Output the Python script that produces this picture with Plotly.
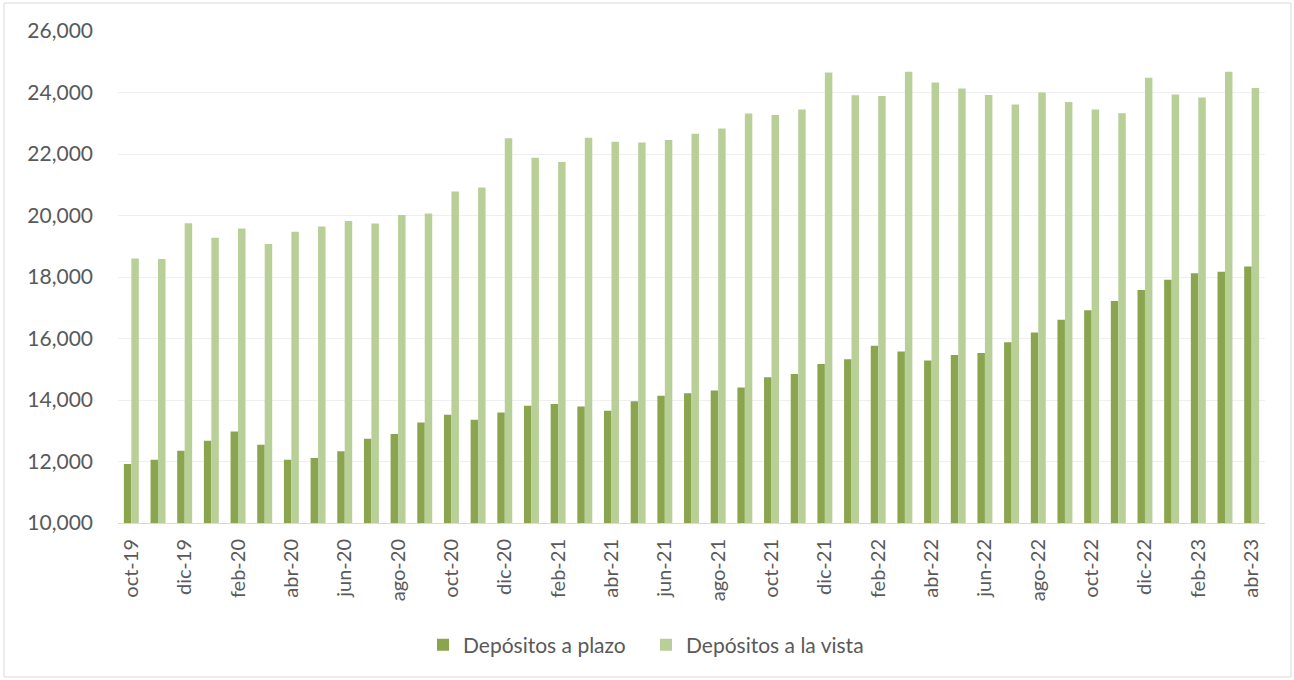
import plotly.graph_objects as go

months = ["oct-19","nov-19","dic-19",
          "ene-20","feb-20","mar-20","abr-20","may-20","jun-20","jul-20","ago-20","sep-20","oct-20","nov-20","dic-20",
          "ene-21","feb-21","mar-21","abr-21","may-21","jun-21","jul-21","ago-21","sep-21","oct-21","nov-21","dic-21",
          "ene-22","feb-22","mar-22","abr-22","may-22","jun-22","jul-22","ago-22","sep-22","oct-22","nov-22","dic-22",
          "ene-23","feb-23","mar-23","abr-23"]

plazo = [11917, 12057, 12347,
         12673, 12975, 12545, 12057, 12115, 12336, 12743, 12894, 13266, 13521, 13358, 13591,
         13812, 13870, 13788, 13649, 13963, 14137, 14218, 14311, 14404, 14741, 14846, 15171,
         15323, 15764, 15578, 15288, 15462, 15532, 15880, 16194, 16613, 16915, 17217, 17577,
         17914, 18123, 18170, 18344]

vista = [18600, 18588, 19750,
         19274, 19576, 19076, 19471, 19645, 19820, 19738, 20017, 20064, 20784, 20912, 22516,
         21877, 21737, 22527, 22400, 22376, 22458, 22655, 22830, 23318, 23271, 23446, 24654,
         23910, 23887, 24677, 24329, 24131, 23922, 23608, 24003, 23690, 23446, 23329, 24480,
         23934, 23841, 24677, 24143]

shown_ticks = months[::2]

font_family = "Lato, 'Open Sans', sans-serif"
txt = "#595959"

fig = go.Figure()
fig.add_trace(go.Bar(x=months, y=plazo, name="Depósitos a plazo",
                     marker=dict(color="#8AA54E", line=dict(width=0))))
fig.add_trace(go.Bar(x=months, y=vista, name="Depósitos a la vista",
                     marker=dict(color="#B9CF98", line=dict(width=0))))

L, R, T, B = 118, 29, 31, 157
W, H = 1294, 680
pw, ph = W - L - R, H - T - B

fig.update_layout(
    width=W, height=H,
    margin=dict(l=L, r=R, t=T, b=B),
    paper_bgcolor="white", plot_bgcolor="white",
    barmode="group", bargap=0.44, bargroupgap=0.0,
    font=dict(family=font_family, color=txt, size=20),
    legend=dict(orientation="h", x=(646 - L) / pw, xanchor="center",
                y=(H - 645 - B) / ph, yanchor="middle",
                font=dict(size=21, color=txt), traceorder="normal",
                itemwidth=30, tracegroupgap=0, entrywidth=178, entrywidthmode="pixels"),
    xaxis=dict(type="category", tickmode="array", tickvals=shown_ticks, ticktext=shown_ticks,
               tickangle=-90, showgrid=False, showline=True, linecolor="#D9D9D9", linewidth=1,
               ticks="", tickfont=dict(size=20, color=txt), ticklabelstandoff=7),
    yaxis=dict(range=[10000, 26000], dtick=2000, tickformat=",", showgrid=True,
               gridcolor="#EFEFEF", gridwidth=1, zeroline=False, showline=False,
               ticks="", tickfont=dict(size=21, color=txt), ticklabelstandoff=24),
    shapes=[dict(type="rect", xref="paper", yref="paper",
                 x0=(4 - L) / pw, x1=(1291 - L) / pw,
                 y0=(H - 677 - B) / ph, y1=(H - 3 - B) / ph,
                 line=dict(color="#D9D9D9", width=1), fillcolor="rgba(0,0,0,0)", layer="below")],
)

fig.write_html("out.html", config={"displayModeBar": False},
               post_script="document.body.style.margin='0';document.body.style.overflow='hidden';")
